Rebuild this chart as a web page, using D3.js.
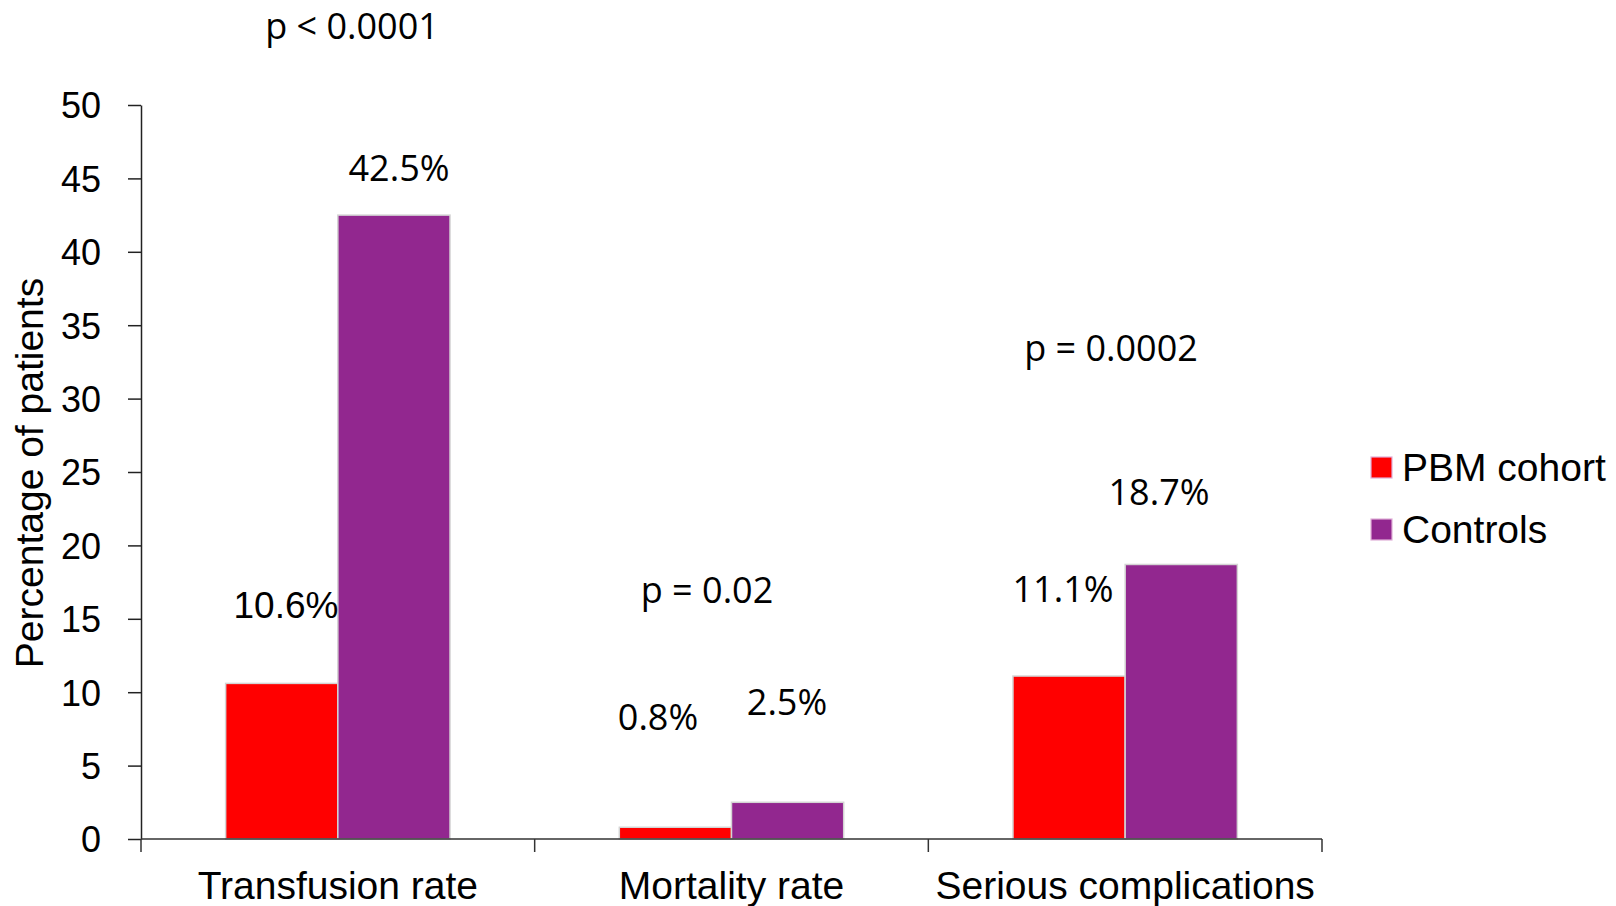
<!DOCTYPE html>
<html>
<head>
<meta charset="utf-8">
<script src="https://cdn.jsdelivr.net/npm/d3@7"></script>
<style>
  html, body { margin: 0; padding: 0; background: #ffffff; }
  svg { display: block; }
</style>
</head>
<body>
<svg id="chart" width="1616" height="906"></svg>
<script>
// ---- data ----
const categories = ["Transfusion rate", "Mortality rate", "Serious complications"];
const seriesNames = ["PBM cohort", "Controls"];
const pbmValues = [10.6, 0.8, 11.1];
const controlValues = [42.5, 2.5, 18.7];
const yTicks = [0, 5, 10, 15, 20, 25, 30, 35, 40, 45, 50];
const pbmLabels = ["10.6%", "0.8%", "11.1%"];
const controlLabels = ["42.5%", "2.5%", "18.7%"];
const pLabels = ["p < 0.0001", "p = 0.02", "p = 0.0002"];
const yTitle = "Percentage of patients";

// ---- layout ----
const colors = ["#ff0000", "#92278f"];
const plot = { left: 141, right: 1322, top: 105, bottom: 839 };
const arial = "'Liberation Sans', Arimo, Arial, sans-serif";
const annoFont = "'Open Sans', 'Noto Sans', sans-serif";
const svg = d3.select("#chart");

const x = d3.scaleBand().domain(categories).range([plot.left, plot.right]).paddingInner(0).paddingOuter(0);
const xs = d3.scaleBand().domain(seriesNames)
  .range([x.bandwidth() * 0.215, x.bandwidth() * 0.785]).padding(0);
const y = d3.scaleLinear().domain([0, 50]).range([plot.bottom, plot.top]);

const rows = categories.map((c, i) => ({ cat: c, vals: [pbmValues[i], controlValues[i]] }));

// bars
const g = svg.append("g");
rows.forEach(r => {
  r.vals.forEach((v, j) => {
    g.append("rect")
      .attr("x", x(r.cat) + xs(seriesNames[j]))
      .attr("y", y(v))
      .attr("width", xs.bandwidth())
      .attr("height", y(0) - y(v))
      .attr("fill", colors[j])
      .attr("stroke", "#d4d4d4")
      .attr("stroke-width", 1.5);
  });
});

// y axis
const yAxis = svg.append("g")
  .attr("transform", `translate(${plot.left},0)`)
  .call(d3.axisLeft(y).tickValues(yTicks).tickSize(13).tickPadding(27).tickSizeOuter(0));
yAxis.select(".domain").attr("stroke", "#222").attr("stroke-width", 1.5);
yAxis.selectAll(".tick line").attr("stroke", "#222").attr("stroke-width", 1.5);
yAxis.selectAll(".tick text")
  .attr("font-family", arial)
  .attr("font-size", 36).attr("fill", "#000").attr("dy", "0.36em");

// x axis line and boundary ticks
const xAxisG = svg.append("g");
xAxisG.append("line")
  .attr("x1", plot.left).attr("x2", plot.right)
  .attr("y1", y(0)).attr("y2", y(0))
  .attr("stroke", "#333").attr("stroke-width", 1.5);
const boundaries = categories.map(c => x(c)).concat([x(categories[categories.length - 1]) + x.bandwidth()]);
xAxisG.selectAll("line.bt").data(boundaries).join("line")
  .attr("class", "bt")
  .attr("x1", d => d).attr("x2", d => d)
  .attr("y1", y(0)).attr("y2", y(0) + 13)
  .attr("stroke", "#333").attr("stroke-width", 1.5);
xAxisG.selectAll("text").data(categories).join("text")
  .attr("x", d => x(d) + x.bandwidth() / 2)
  .attr("y", 899)
  .attr("text-anchor", "middle")
  .attr("font-family", arial)
  .attr("font-size", 39).attr("fill", "#000")
  .text(d => d);

// y title
svg.append("text")
  .attr("transform", `translate(43,473) rotate(-90)`)
  .attr("text-anchor", "middle")
  .attr("font-family", arial)
  .attr("font-size", 39).attr("fill", "#000")
  .text(yTitle);

// annotations (value labels and p-values)
const pbmLabelPos = [[286, 618], [658, 730], [1063, 602]];
const ctlLabelPos = [[399, 181], [787, 715], [1159, 505]];
const pPos = [[352, 39], [707, 603], [1111, 361]];
pbmLabels.forEach((t, i) => {
  svg.append("text")
    .attr("x", pbmLabelPos[i][0]).attr("y", pbmLabelPos[i][1])
    .attr("text-anchor", "middle")
    .attr("font-family", i === 0 ? arial : annoFont)
    .attr("font-size", i === 0 ? 37 : 36).attr("fill", "#000")
    .text(t);
});
controlLabels.forEach((t, i) => {
  svg.append("text")
    .attr("x", ctlLabelPos[i][0]).attr("y", ctlLabelPos[i][1])
    .attr("text-anchor", "middle")
    .attr("font-family", annoFont)
    .attr("font-size", 36).attr("fill", "#000")
    .text(t);
});
pLabels.forEach((t, i) => {
  svg.append("text")
    .attr("x", pPos[i][0]).attr("y", pPos[i][1])
    .attr("text-anchor", "middle")
    .attr("font-family", annoFont)
    .attr("font-size", 36).attr("fill", "#000")
    .text(t);
});

// legend
const legend = svg.append("g").attr("transform", "translate(1371,0)");
seriesNames.forEach((s, i) => {
  const yy = 481 + i * 62;
  legend.append("rect")
    .attr("x", 0).attr("y", yy - 24).attr("width", 21).attr("height", 21)
    .attr("fill", colors[i]).attr("stroke", "#e0b0d8").attr("stroke-width", 1.2);
  legend.append("text")
    .attr("x", 31).attr("y", yy)
    .attr("font-family", arial)
    .attr("font-size", 39).attr("fill", "#000")
    .text(s);
});
</script>
</body>
</html>
